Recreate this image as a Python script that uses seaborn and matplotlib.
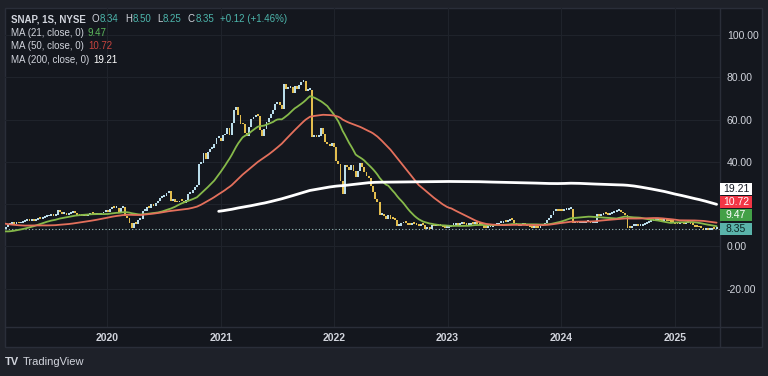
import numpy as np
import pandas as pd
import matplotlib
matplotlib.use('Agg')
import matplotlib.pyplot as plt
from matplotlib.lines import Line2D
from matplotlib.patches import Rectangle
import seaborn as sns

# weekly closes (Fridays), SNAP since IPO week 2017-03-03
close_2017 = [24.5, 22.7, 19.9, 20.8, 22.5, 21.4, 20.6, 20.8, 22.6,
              22.9, 18.1, 20.8, 21.0, 20.5, 18.2, 17.8, 17.8, 17.8,
              16.8, 16.2, 14.7, 14.0, 13.0, 11.8, 13.5, 14.3,
              15.0, 15.5, 15.7, 15.2, 15.2, 15.1, 15.5, 15.2, 15.6,
              15.0, 12.8, 12.9, 13.3, 13.9, 14.2, 14.5, 14.8, 14.6]
close_2018 = [14.6, 14.2, 14.0, 14.4, 13.9, 19.1, 18.9, 18.6,
              17.5, 17.8, 17.0, 15.9, 15.9, 14.9, 14.5, 14.3, 14.0,
              11.0, 11.2, 11.4, 10.9, 12.5, 13.4, 13.9, 13.6, 13.1,
              13.3, 13.7, 13.4, 12.9, 12.8, 11.9, 12.0, 11.6, 11.5,
              10.6, 10.4, 10.2, 9.3, 8.3, 7.3, 7.1, 6.9,
              6.4, 7.3, 6.9, 6.5, 6.9, 6.3, 6.0, 5.3, 5.5]
close_2019 = [5.9, 6.3, 6.5, 6.9, 8.2, 9.4, 10.2, 10.6,
              10.9, 10.6, 11.0, 10.9, 11.0, 11.6, 11.9, 12.4, 12.1,
              12.6, 12.0, 12.6, 12.9, 12.8, 13.5, 13.9, 14.2, 14.3,
              14.8, 14.6, 15.0, 17.4, 16.3, 15.2, 15.6, 15.1, 15.2,
              16.0, 16.3, 15.8, 15.1, 14.6, 14.3, 14.8, 14.4,
              14.8, 15.4, 15.2, 14.9, 15.2, 15.1, 15.6, 16.3, 16.8]
close_2020 = [16.4, 17.9, 18.5, 18.3, 18.4, 16.5, 18.2, 18.6, 14.6,
              13.5, 11.3, 8.8, 11.2, 10.8, 12.4, 13.0, 17.0,
              17.0, 18.6, 18.2, 20.0, 19.0, 20.7, 21.5, 23.1, 23.6,
              24.0, 25.4, 26.0, 21.3, 22.4, 21.2, 20.8, 21.6, 21.5,
              20.6, 22.0, 24.9, 25.4, 26.5, 28.0, 29.0, 39.2, 39.4,
              44.0, 41.6, 44.9, 46.0, 46.6, 48.5, 51.2, 51.4]
close_2021 = [50.1, 52.5, 53.0, 56.0, 52.8, 58.4, 64.7, 65.8, 62.0,
              58.0, 57.7, 53.6, 52.2, 56.5, 60.5, 61.1, 62.0, 61.6,
              55.0, 52.2, 55.6, 59.0, 60.6, 62.8, 64.6, 67.6,
              68.1, 67.0, 64.8, 76.8, 74.4, 74.9, 75.2, 72.5, 76.0,
              74.4, 76.4, 77.9, 78.2, 73.7, 74.0, 74.1, 51.8, 52.6,
              52.0, 52.2, 55.8, 53.1, 49.6, 48.5, 47.4, 48.8, 47.0]
close_2022 = [40.5, 39.1, 31.0, 24.6, 38.5, 37.5, 36.0, 38.6,
              35.7, 33.0, 35.8, 39.6, 37.6, 35.4, 33.2, 32.6, 28.5,
              25.8, 22.5, 21.2, 14.9, 15.3, 14.3, 12.9, 14.7,
              13.2, 12.9, 12.7, 9.8, 9.9, 10.9, 11.6, 11.1, 10.3,
              10.1, 11.2, 10.8, 10.3, 9.8, 10.4, 10.2, 8.2, 8.8,
              8.2, 10.2, 9.6, 10.1, 9.9, 9.5, 9.3, 8.6, 8.9]
close_2023 = [9.4, 10.0, 10.3, 11.3, 10.3, 10.6, 11.0, 10.6,
              10.0, 10.3, 10.7, 10.6, 11.2, 10.5, 10.3, 10.0, 8.8,
              8.7, 9.0, 9.3, 9.5, 10.2, 10.3, 11.0, 11.2, 11.8,
              11.4, 12.0, 12.8, 12.4, 11.0, 10.2, 9.6, 10.1,
              10.3, 10.0, 9.8, 9.2, 8.9, 9.0, 8.8, 8.6, 9.7,
              10.4, 11.2, 12.5, 13.4, 14.7, 16.6, 17.2, 17.0, 16.9]
close_2024 = [16.6, 17.3, 17.3, 17.7, 17.8, 11.2, 11.2, 11.0,
              11.0, 11.2, 11.2, 11.4, 11.5, 11.1, 11.2, 11.3, 15.3,
              14.6, 14.9, 15.5, 15.3, 15.1, 15.3, 15.7, 16.2, 16.6,
              16.6, 16.5, 15.6, 14.9, 8.9, 8.6, 9.8, 9.9, 10.7,
              9.7, 9.7, 10.3, 10.7, 11.0, 11.6, 12.2, 12.7,
              12.7, 12.8, 12.4, 11.9, 12.3, 12.2, 12.0, 11.6, 11.5]
close_2025 = [10.6, 10.4, 10.9, 11.0, 10.6, 11.2, 11.3, 10.6, 10.2,
              9.4, 9.2, 9.0, 8.7, 7.6, 8.1, 7.9, 8.0, 8.5, 8.2, 8.35]

# legend readout of the last bar
last_ohlc = {'O': 8.34, 'H': 8.50, 'L': 8.25, 'C': 8.35}
last_change = '+0.12 (+1.46%)'
ma_periods = [21, 50, 200]
ma_last = [9.47, 10.72, 19.21]
price_ticks = [-20, 0, 20, 40, 60, 80, 100]
year_ticks = [2020, 2021, 2022, 2023, 2024, 2025]

OUTER = '#1e2129'
PANEL = '#14171e'
BORDER = '#2a2e39'
GRID = '#1f232b'
TXT = '#d1d4dc'
UP = '#b9dcea'
DOWN = '#e3bd4e'
TEAL = '#4db6ac'
MA_COLORS = ['#86b94a', '#e4705c', '#ffffff']
VAL_COLORS = ['#5cb85c', '#c9443f', '#ffffff']
BOX_COLORS = ['#43a047', '#f23645', '#ffffff']

W, H = 768, 376


def fx(x):
    return x / W


def fy(y):
    return 1 - y / H


closes = np.array(close_2017 + close_2018 + close_2019 + close_2020 + close_2021
                  + close_2022 + close_2023 + close_2024 + close_2025)
dates = pd.date_range('2017-03-03', periods=len(closes), freq='W-FRI')
df = pd.DataFrame({'date': dates, 'close': closes})
df['open'] = df['close'].shift(1).fillna(df['close'])
for p in ma_periods:
    df[f'ma{p}'] = df['close'].rolling(p).mean()

sns.set_theme(style='dark', rc={
    'axes.facecolor': PANEL,
    'figure.facecolor': OUTER,
    'grid.color': GRID,
    'text.color': TXT,
    'xtick.color': TXT,
    'ytick.color': TXT,
})
plt.rcParams['font.family'] = ['Liberation Sans', 'DejaVu Sans']

fig = plt.figure(figsize=(W / 100, H / 100), dpi=100)
# chart panel behind the axes
fig.add_artist(Rectangle((fx(5), fy(347)), fx(757), 339 / H, transform=fig.transFigure,
                         facecolor=PANEL, edgecolor=BORDER, lw=1, zorder=-5))
ax = fig.add_axes([fx(5), fy(327), fx(715), 319 / H])
ax.patch.set_alpha(0)

# candles (body from previous close to close)
up = df['close'] >= df['open']
bottom = np.minimum(df['open'], df['close'])
height = np.maximum(np.abs(df['close'] - df['open']), 0.9)
ax.bar(df['date'], height, bottom=bottom, width=6,
       color=np.where(up, UP, DOWN), linewidth=0, zorder=2)

# moving averages
for p, c, lw in zip(ma_periods, MA_COLORS, [1.3, 1.3, 2.0]):
    d = df[['date', f'ma{p}']].dropna()
    sns.lineplot(data=d, x='date', y=f'ma{p}', color=c, lw=lw, ax=ax, zorder=3)

last_close = df['close'].iloc[-1]
ax.axhline(last_close, color='#9fc4c0', lw=0.8, ls=(0, (1, 2)), zorder=1)

ax.set_xlim(pd.Timestamp('2019-02-06'), pd.Timestamp('2025-05-27'))
ax.set_ylim(-38.1, 112.8)
ax.set_xlabel('')
ax.set_ylabel('')

ax.set_xticks([pd.Timestamp(f'{y}-01-01') for y in year_ticks])
ax.set_xticklabels([str(y) for y in year_ticks], fontsize=7.5, fontweight='bold')
ax.yaxis.tick_right()
ax.set_yticks(price_ticks)
ax.set_yticklabels(['' if t == 20 else f'{t:.2f}' for t in price_ticks], fontsize=7.5)
ax.tick_params(axis='x', length=0, pad=4)
ax.tick_params(axis='y', length=0, pad=5)
ax.grid(True, color=GRID, lw=0.8)
for s in ax.spines.values():
    s.set_visible(False)

# panel separators
fig.add_artist(Line2D([fx(720), fx(720)], [fy(8), fy(347)], color=BORDER, lw=1, zorder=6))
fig.add_artist(Line2D([fx(5), fx(762)], [fy(327), fy(327)], color=BORDER, lw=1, zorder=6))

# stacked price labels on the right
fig.canvas.draw()
renderer = fig.canvas.get_renderer()
y_last = H - ax.transData.transform((0, last_close))[1]
boxes = [(last_close, 0, '#5ab3aa', '#0c2624'),
         (ma_last[0], 14, BOX_COLORS[0], '#ffffff'),
         (ma_last[1], 26.5, BOX_COLORS[1], '#ffffff'),
         (ma_last[2], 40, BOX_COLORS[2], '#131722')]
for val, off, fc, tc in boxes:
    yc = y_last - off
    fig.add_artist(Rectangle((fx(720), fy(yc + 6)), fx(32), 12 / H,
                             transform=fig.transFigure, facecolor=fc, lw=0, zorder=7))
    fig.text(fx(736), fy(yc), f'{val:.2f}', color=tc, fontsize=7.5,
             ha='center', va='center', zorder=8)


def text_run(pieces, y, x0=11, size=7):
    # lay pieces left to right; each piece is (text, colour, gap before, weight)
    x = x0
    for s, c, gap, wt in pieces:
        x += gap
        t = fig.text(fx(x), fy(y), s, color=c, fontsize=size, va='center', fontweight=wt)
        x = t.get_window_extent(renderer).x1


# legend block top-left
line1 = [('SNAP, 1S, NYSE', TXT, 0, 'bold')]
for k, v in last_ohlc.items():
    line1 += [(k, TXT, 6, 'normal'), (f'{v:.2f}', TEAL, 0.5, 'normal')]
line1.append((last_change, TEAL, 6, 'normal'))
text_run(line1, 19)

for p, val, vc, y in zip(ma_periods, ma_last, VAL_COLORS, [33, 46, 60]):
    text_run([(f'MA ({p}, close, 0)', TXT, 0, 'normal'),
              (f'{val:.2f}', vc, 4, 'normal')], y)

# TradingView mark
fig.text(fx(5), fy(362), 'TV', color=TXT, fontsize=8, fontweight='heavy', va='center')
fig.text(fx(23), fy(362), 'TradingView', color=TXT, fontsize=8, va='center')

fig.savefig('out.png', dpi=100, facecolor=OUTER)
